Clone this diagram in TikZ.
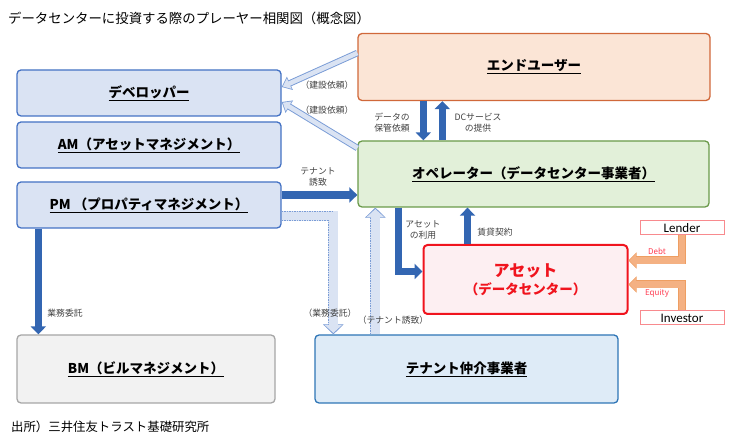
\documentclass[tikz,border=0pt]{standalone}
\usepackage{fontspec}
\setmainfont{Noto Sans CJK JP}
\newfontfamily\latinfont{Carlito}
\usetikzlibrary{arrows.meta}
\definecolor{flowblue}{HTML}{3366B2}
\definecolor{devfill}{HTML}{DAE3F3}
\definecolor{devedge}{HTML}{4472C4}
\definecolor{userfill}{HTML}{FBE5D6}
\definecolor{useredge}{HTML}{D0683A}
\definecolor{opfill}{HTML}{E2F0D9}
\definecolor{opedge}{HTML}{6A9A4A}
\definecolor{assetfill}{HTML}{FDEFF2}
\definecolor{assetred}{HTML}{F0141E}
\definecolor{lenderedge}{HTML}{F88A8E}
\definecolor{bmfill}{HTML}{F2F2F2}
\definecolor{bmedge}{HTML}{A6A6A6}
\definecolor{brokerfill}{HTML}{DEEBF7}
\definecolor{brokeredge}{HTML}{2E75B6}
\definecolor{hollowfill}{HTML}{DAE3F3}
\definecolor{hollowedge}{HTML}{7A9CD6}
\definecolor{capfill}{HTML}{F4B183}
\definecolor{capedge}{HTML}{EE9E62}
\definecolor{noteink}{HTML}{404040}
\definecolor{capred}{HTML}{FF3B50}
\tikzset{
  player/.style={
    rectangle, rounded corners=4pt, line width=1.3pt, inner sep=0pt,
    font=\fontsize{13.5}{16}\selectfont\bfseries
  },
  side box/.style={player, draw=devedge, fill=devfill,
    minimum width=264pt, minimum height=46pt},
  user box/.style={player, draw=useredge, fill=userfill,
    minimum width=352pt, minimum height=67pt},
  operator box/.style={player, draw=opedge, fill=opfill,
    minimum width=351pt, minimum height=66pt},
  asset box/.style={player, draw=assetred, fill=assetfill, line width=2pt,
    minimum width=204pt, minimum height=69pt, text=assetred, align=center},
  capital box/.style={
    rectangle, draw=lenderedge, fill=white, line width=1pt, inner sep=0pt,
    minimum width=84pt, minimum height=14pt,
    font=\latinfont\fontsize{13}{14}\selectfont
  },
  bm box/.style={player, draw=bmedge, fill=bmfill,
    minimum width=258pt, minimum height=68pt},
  broker box/.style={player, draw=brokeredge, fill=brokerfill,
    minimum width=303pt, minimum height=68pt},
  heading/.style={anchor=west, inner sep=0pt, font=\fontsize{13.4}{15}\selectfont},
  source note/.style={anchor=west, inner sep=0pt, font=\fontsize{12.4}{14}\selectfont},
  flow note/.style={inner sep=0pt, align=center, text=noteink,
    font=\fontsize{8.8}{11}\selectfont},
  capital note/.style={inner sep=0pt, text=capred,
    font=\fontsize{8}{10}\selectfont},
  main flow/.style={
    draw=flowblue, line width=7.5pt,
    -{Triangle[length=8pt,width=15pt]}
  },
  hollow flow/.style={
    preaction={draw=hollowedge, line width=6.5pt, shorten >=0pt,
      -{Triangle[length=9pt,width=14pt]}},
    draw=hollowfill, line width=4.6pt, shorten >=1.3pt,
    -{Triangle[length=7pt,width=11pt]}
  },
  dashed flow/.style={
    preaction={draw=hollowfill, line width=10pt, shorten >=0pt,
      -{Triangle[length=10pt,width=20pt]}},
    preaction={draw=hollowedge, line width=10pt, shorten >=0pt,
      dash pattern=on 1.5pt off 1pt, -{Triangle[length=10pt,width=20pt]}},
    draw=hollowfill, line width=8.4pt, shorten >=1.4pt,
    -{Triangle[length=8pt,width=17pt]}
  },
  capital flow/.style={
    preaction={draw=capedge, line width=8pt, shorten >=0pt,
      -{Triangle[length=8pt,width=16pt]}},
    draw=capfill, line width=6.4pt, shorten >=1pt,
    -{Triangle[length=6.6pt,width=13.5pt]}
  }
}

\begin{document}
\begin{tikzpicture}[x=1pt,y=-1pt]
  \useasboundingbox (0,0) rectangle (740,443);
  % Title on top, source line at the foot.
  \node[heading] (title) at (8,18) {データセンターに投資する際のプレーヤー相関図（概念図）};
  \node[source note] (source) at (11,427) {出所）三井住友トラスト基礎研究所};

  % Real-estate players on the left, data-centre players on the right.
  \node[side box] (dev) at (149,93) {\underline{デベロッパー}};
  \node[side box] (am) at (149,145) {\underline{AM（アセットマネジメント）}};
  \node[side box] (pm) at (149,205) {\underline{PM\ （プロパティマネジメント）}};
  \node[user box] (user) at (534,67) {\underline{エンドユーザー}};
  \node[operator box] (op) at (533.5,174) {\underline{オペレーター（データセンター事業者）}};
  \node[asset box] (asset) at (525.5,279.5)
    {{\fontsize{16}{20}\selectfont アセット}\\[2pt]（データセンター）};
  \node[capital box] (lender) at (682,228) {Lender};
  \node[capital box] (investor) at (682,318) {Investor};
  \node[bm box] (bm) at (146,369) {\underline{BM（ビルマネジメント）}};
  \node[broker box] (broker) at (466.5,369) {\underline{テナント仲介事業者}};

  % Solid flows between the players.
  \draw[main flow] ([xshift=66pt]user.south west) -- ([xshift=66pt]op.north west);
  \draw[main flow] ([xshift=85pt]op.north west) -- ([xshift=85pt]user.south west);
  \draw[main flow] ([yshift=10pt]pm.east) -- ([yshift=10pt]pm.east -| op.west);
  \draw[main flow] ([xshift=22pt]pm.south west) -- ([xshift=22pt]pm.south west |- bm.north);
  \draw[main flow] ([xshift=41pt]op.south west) |- ([yshift=8pt]asset.west);
  \draw[main flow] ([xshift=45pt]asset.north west) -- ([xshift=45pt]asset.north west |- op.south);

  % Indirect requests: hollow and dashed arrows.
  \draw[hollow flow] ([yshift=14pt]user.west) -- ([yshift=6pt]dev.east);
  \draw[hollow flow] ([yshift=26pt]op.west) -- ([yshift=-9pt]dev.east);
  \draw[dashed flow] ([yshift=-11pt]pm.east) -| ([xshift=19pt]broker.north west);
  \draw[dashed flow] ([xshift=61pt]broker.north west) -- ([xshift=61pt]broker.north west |- op.south);

  % Funding of the asset.
  \draw[capital flow] (lender.south) |- ([yshift=19pt]asset.east);
  \draw[capital flow] (investor.north) |- ([yshift=-5pt]asset.east);

  % Arrow labels.
  \node[flow note] (req1) at (327,85) {（建設依頼）};
  \node[flow note] (req2) at (327,110) {（建設依頼）};
  \node[flow note] (store) at (392,123) {データの\\保管依頼};
  \node[flow note] (service) at (478,123) {DCサービス\\の提供};
  \node[flow note] (invite) at (318,177) {テナント\\誘致};
  \node[flow note] (use) at (423,230) {アセット\\の利用};
  \node[flow note] (lease) at (495,232) {賃貸契約};
  \node[flow note] (outsource) at (65,313) {業務委託};
  \node[flow note] (outsource2) at (330,313) {（業務委託）};
  \node[flow note] (invite2) at (393,320) {（テナント誘致）};
  \node[capital note] (debt) at (657,251) {Debt};
  \node[capital note] (equity) at (657,293) {Equity};
\end{tikzpicture}
\end{document}
